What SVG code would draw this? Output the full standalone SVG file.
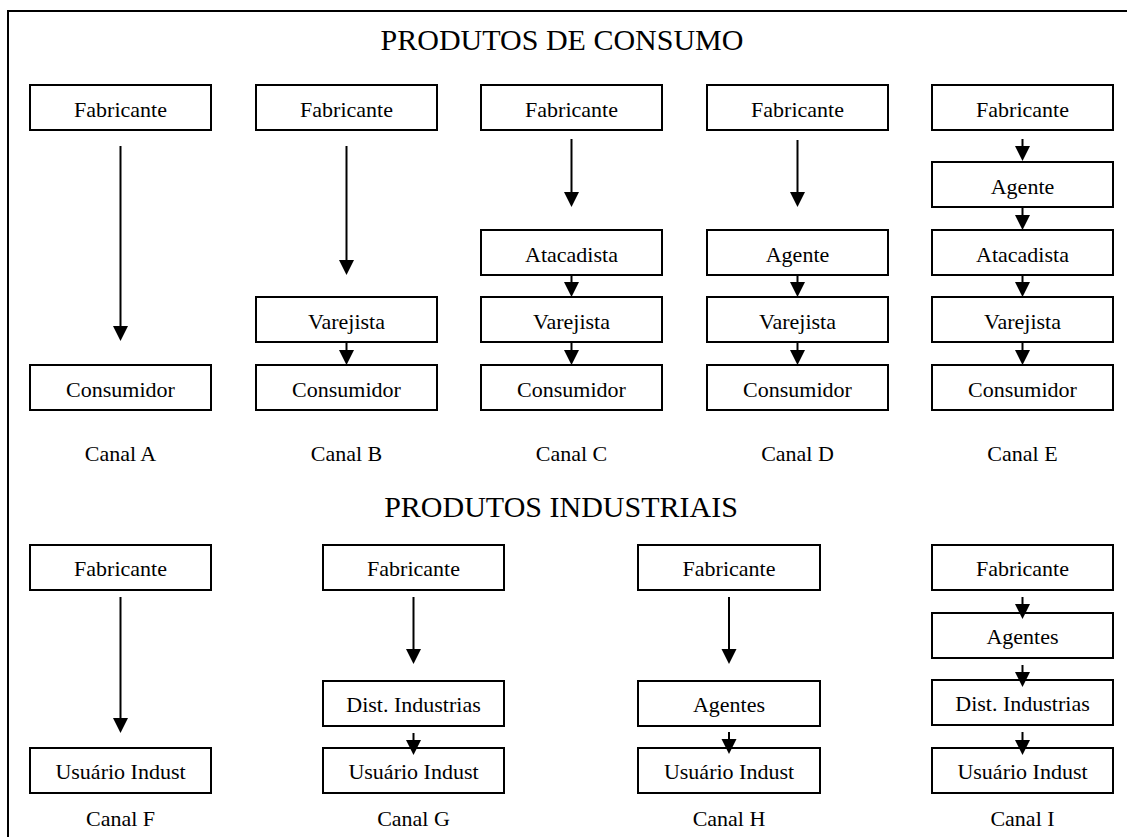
<svg xmlns="http://www.w3.org/2000/svg" width="1127" height="837" viewBox="0 0 1127 837">
<style>
.box{fill:#fff;stroke:#000;stroke-width:2}
.t{font-family:"Liberation Serif","Times New Roman",serif;font-size:22px;text-anchor:middle;fill:#000}
.title{font-family:"Liberation Serif","Times New Roman",serif;font-size:30px;text-anchor:middle;fill:#000}
.ln{stroke:#000;stroke-width:2;fill:none;marker-end:url(#ah)}
</style>
<defs>
<marker id="ah" markerUnits="userSpaceOnUse" markerWidth="16" markerHeight="16" refX="5" refY="7.5" orient="auto" viewBox="0 0 16 15">
<path d="M0,0 L15,7.5 L0,15 Z" fill="#000"/>
</marker>
</defs>
<rect width="1127" height="837" fill="#fff"/>
<path d="M8,837 V11 H1127" fill="none" stroke="#000" stroke-width="2"/>
<text class="title" x="562" y="50">PRODUTOS DE CONSUMO</text>
<text class="title" x="561" y="517">PRODUTOS INDUSTRIAIS</text>

<g id="canalA">
<g id="A-fab"><rect class="box" x="30" y="85" width="181" height="45"/><text class="t" x="120.5" y="117">Fabricante</text></g>
<g id="A-con"><rect class="box" x="30" y="365" width="181" height="45"/><text class="t" x="120.5" y="397">Consumidor</text></g>
<text class="t" x="120.5" y="461">Canal A</text>
</g>
<g id="canalB">
<g id="B-fab"><rect class="box" x="256" y="85" width="181" height="45"/><text class="t" x="346.5" y="117">Fabricante</text></g>
<g id="B-var"><rect class="box" x="256" y="297" width="181" height="45"/><text class="t" x="346.5" y="329">Varejista</text></g>
<g id="B-con"><rect class="box" x="256" y="365" width="181" height="45"/><text class="t" x="346.5" y="397">Consumidor</text></g>
<text class="t" x="346.5" y="461">Canal B</text>
</g>
<g id="canalC">
<g id="C-fab"><rect class="box" x="481" y="85" width="181" height="45"/><text class="t" x="571.5" y="117">Fabricante</text></g>
<g id="C-ata"><rect class="box" x="481" y="230" width="181" height="45"/><text class="t" x="571.5" y="262">Atacadista</text></g>
<g id="C-var"><rect class="box" x="481" y="297" width="181" height="45"/><text class="t" x="571.5" y="329">Varejista</text></g>
<g id="C-con"><rect class="box" x="481" y="365" width="181" height="45"/><text class="t" x="571.5" y="397">Consumidor</text></g>
<text class="t" x="571.5" y="461">Canal C</text>
</g>
<g id="canalD">
<g id="D-fab"><rect class="box" x="707" y="85" width="181" height="45"/><text class="t" x="797.5" y="117">Fabricante</text></g>
<g id="D-age"><rect class="box" x="707" y="230" width="181" height="45"/><text class="t" x="797.5" y="262">Agente</text></g>
<g id="D-var"><rect class="box" x="707" y="297" width="181" height="45"/><text class="t" x="797.5" y="329">Varejista</text></g>
<g id="D-con"><rect class="box" x="707" y="365" width="181" height="45"/><text class="t" x="797.5" y="397">Consumidor</text></g>
<text class="t" x="797.5" y="461">Canal D</text>
</g>
<g id="canalE">
<g id="E-fab"><rect class="box" x="932" y="85" width="181" height="45"/><text class="t" x="1022.5" y="117">Fabricante</text></g>
<g id="E-age"><rect class="box" x="932" y="162" width="181" height="45"/><text class="t" x="1022.5" y="194">Agente</text></g>
<g id="E-ata"><rect class="box" x="932" y="230" width="181" height="45"/><text class="t" x="1022.5" y="262">Atacadista</text></g>
<g id="E-var"><rect class="box" x="932" y="297" width="181" height="45"/><text class="t" x="1022.5" y="329">Varejista</text></g>
<g id="E-con"><rect class="box" x="932" y="365" width="181" height="45"/><text class="t" x="1022.5" y="397">Consumidor</text></g>
<text class="t" x="1022.5" y="461">Canal E</text>
</g>

<g id="canalF">
<g id="F-fab"><rect class="box" x="30" y="545" width="181" height="45"/><text class="t" x="120.5" y="576">Fabricante</text></g>
<g id="F-usu"><rect class="box" x="30" y="748" width="181" height="45"/><text class="t" x="120.5" y="779">Usuário Indust</text></g>
<text class="t" x="120.5" y="826">Canal F</text>
</g>
<g id="canalG">
<g id="G-fab"><rect class="box" x="323" y="545" width="181" height="45"/><text class="t" x="413.5" y="576">Fabricante</text></g>
<g id="G-dis"><rect class="box" x="323" y="681" width="181" height="45"/><text class="t" x="413.5" y="712">Dist. Industrias</text></g>
<g id="G-usu"><rect class="box" x="323" y="748" width="181" height="45"/><text class="t" x="413.5" y="779">Usuário Indust</text></g>
<text class="t" x="413.5" y="826">Canal G</text>
</g>
<g id="canalH">
<g id="H-fab"><rect class="box" x="638" y="545" width="182" height="45"/><text class="t" x="729" y="576">Fabricante</text></g>
<g id="H-age"><rect class="box" x="638" y="681" width="182" height="45"/><text class="t" x="729" y="712">Agentes</text></g>
<g id="H-usu"><rect class="box" x="638" y="748" width="182" height="45"/><text class="t" x="729" y="779">Usuário Indust</text></g>
<text class="t" x="729" y="826">Canal H</text>
</g>
<g id="canalI">
<g id="I-fab"><rect class="box" x="932" y="545" width="181" height="45"/><text class="t" x="1022.5" y="576">Fabricante</text></g>
<g id="I-age"><rect class="box" x="932" y="613" width="181" height="45"/><text class="t" x="1022.5" y="644">Agentes</text></g>
<g id="I-dis"><rect class="box" x="932" y="680" width="181" height="45"/><text class="t" x="1022.5" y="711">Dist. Industrias</text></g>
<g id="I-usu"><rect class="box" x="932" y="748" width="181" height="45"/><text class="t" x="1022.5" y="779">Usuário Indust</text></g>
<text class="t" x="1022.5" y="826">Canal I</text>
</g>

<g id="connectors">
<line class="ln" x1="120.5" y1="146" x2="120.5" y2="331"/>
<line class="ln" x1="346.5" y1="146" x2="346.5" y2="265"/>
<line class="ln" x1="346.5" y1="342" x2="346.5" y2="355"/>
<line class="ln" x1="571.5" y1="139" x2="571.5" y2="197"/>
<line class="ln" x1="571.5" y1="275" x2="571.5" y2="287"/>
<line class="ln" x1="571.5" y1="342" x2="571.5" y2="355"/>
<line class="ln" x1="797.5" y1="140" x2="797.5" y2="197"/>
<line class="ln" x1="797.5" y1="275" x2="797.5" y2="287"/>
<line class="ln" x1="797.5" y1="342" x2="797.5" y2="355"/>
<line class="ln" x1="1022.5" y1="139" x2="1022.5" y2="151"/>
<line class="ln" x1="1022.5" y1="207" x2="1022.5" y2="220"/>
<line class="ln" x1="1022.5" y1="275" x2="1022.5" y2="287"/>
<line class="ln" x1="1022.5" y1="342" x2="1022.5" y2="355"/>
<line class="ln" x1="120.5" y1="597" x2="120.5" y2="723"/>
<line class="ln" x1="413.5" y1="597" x2="413.5" y2="654"/>
<line class="ln" x1="413.5" y1="733" x2="413.5" y2="745"/>
<line class="ln" x1="729" y1="597" x2="729" y2="654"/>
<line class="ln" x1="729" y1="732" x2="729" y2="744"/>
<line class="ln" x1="1022.5" y1="597" x2="1022.5" y2="609"/>
<line class="ln" x1="1022.5" y1="665" x2="1022.5" y2="677"/>
<line class="ln" x1="1022.5" y1="732" x2="1022.5" y2="745"/>
</g>
</svg>
